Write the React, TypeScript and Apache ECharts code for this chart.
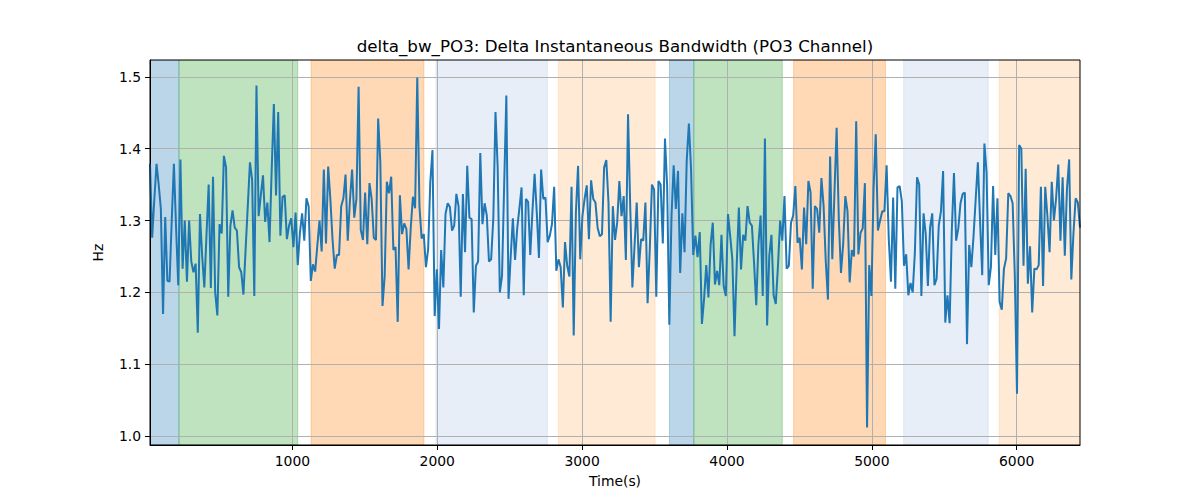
import React, { useEffect, useRef } from "react";
import * as echarts from "echarts";

const TITLE = "delta_bw_PO3: Delta Instantaneous Bandwidth (PO3 Channel)";
const X_NAME = "Time(s)";
const Y_NAME = "Hz";

// sampling grid of the time series (seconds)
const T_START = 17;
const T_STEP = 15;

const seg1 = [
  1.379, 1.276, 1.33, 1.379, 1.35, 1.316, 1.17, 1.305, 1.216, 1.215,
  1.3, 1.379, 1.29, 1.21, 1.385, 1.233, 1.3, 1.215, 1.3, 1.243,
  1.228, 1.24, 1.144, 1.309, 1.251, 1.207, 1.28, 1.35, 1.206, 1.361,
  1.2, 1.168, 1.295, 1.282, 1.39, 1.374, 1.194, 1.293, 1.314, 1.29,
  1.286, 1.235, 1.228, 1.197, 1.26, 1.32, 1.381, 1.357, 1.195, 1.488,
  1.306, 1.335, 1.363, 1.298,
];
const seg2 = [
  1.325, 1.27, 1.37, 1.462, 1.335, 1.451, 1.279, 1.333, 1.335, 1.274,
  1.293, 1.303, 1.263, 1.311, 1.238, 1.283, 1.31, 1.272, 1.331, 1.32,
  1.216, 1.239, 1.229, 1.265, 1.3, 1.257, 1.371, 1.268, 1.375, 1.33,
  1.274, 1.233, 1.252, 1.252, 1.32, 1.331, 1.364, 1.272, 1.327, 1.371,
  1.304, 1.33, 1.486, 1.287, 1.273, 1.339, 1.267, 1.352, 1.33, 1.276,
  1.273, 1.442, 1.381, 1.181,
];
const seg3 = [
  1.223, 1.354, 1.338, 1.361, 1.259, 1.263, 1.159, 1.335, 1.281, 1.296,
  1.288, 1.232, 1.29, 1.333, 1.317, 1.499, 1.32, 1.275, 1.281, 1.235,
  1.26, 1.354, 1.398, 1.167, 1.232, 1.149, 1.259, 1.207, 1.309, 1.324,
  1.319, 1.286, 1.293, 1.337, 1.32, 1.194, 1.337, 1.256, 1.376, 1.304,
  1.302, 1.172, 1.237, 1.243, 1.394, 1.295, 1.324, 1.307, 1.243, 1.246,
  1.303, 1.451, 1.374, 1.2, 1.223,
];
const seg4 = [
  1.35, 1.474, 1.191, 1.25, 1.303, 1.245, 1.289, 1.317, 1.346, 1.196,
  1.33, 1.326, 1.252, 1.313, 1.365, 1.311, 1.248, 1.371, 1.33, 1.332,
  1.27, 1.279, 1.295, 1.347, 1.23, 1.246, 1.235, 1.179, 1.27, 1.237,
  1.222, 1.347, 1.14, 1.311, 1.376, 1.246, 1.306, 1.33, 1.349, 1.274,
  1.356, 1.33, 1.325, 1.29, 1.278, 1.281, 1.374, 1.384, 1.325, 1.159,
  1.32, 1.273, 1.297, 1.355,
];
const seg5 = [
  1.306, 1.334, 1.245, 1.448, 1.32, 1.207, 1.265, 1.325, 1.235, 1.274,
  1.272, 1.325, 1.185, 1.26, 1.35, 1.343, 1.194, 1.355, 1.35, 1.268,
  1.414, 1.348, 1.155, 1.306, 1.377, 1.316, 1.369, 1.227, 1.31, 1.256,
  1.383, 1.435, 1.371, 1.252, 1.279, 1.249, 1.284, 1.156, 1.191, 1.238,
  1.193, 1.266, 1.297, 1.211, 1.23, 1.21, 1.28, 1.209, 1.195, 1.309,
  1.279, 1.246, 1.139, 1.237,
];
const seg6 = [
  1.318, 1.232, 1.28, 1.272, 1.32, 1.297, 1.293, 1.241, 1.182, 1.267,
  1.307, 1.195, 1.414, 1.154, 1.251, 1.28, 1.196, 1.184, 1.237, 1.3,
  1.272, 1.334, 1.233, 1.237, 1.297, 1.307, 1.348, 1.269, 1.276, 1.232,
  1.318, 1.267, 1.355, 1.339, 1.205, 1.32, 1.316, 1.283, 1.359, 1.32,
  1.243, 1.19, 1.389, 1.246, 1.339, 1.429, 1.302, 1.227, 1.267, 1.334,
  1.313, 1.214, 1.259, 1.25, 1.438,
];
const seg7 = [
  1.253, 1.283, 1.289, 1.352, 1.012, 1.238, 1.195, 1.344, 1.42, 1.286,
  1.3, 1.313, 1.313, 1.377, 1.274, 1.215, 1.332, 1.205, 1.346, 1.348,
  1.327, 1.237, 1.253, 1.196, 1.213, 1.2, 1.255, 1.36, 1.35, 1.195,
  1.31, 1.281, 1.209, 1.29, 1.31, 1.21, 1.219, 1.293, 1.313, 1.369,
  1.158, 1.196, 1.157, 1.286, 1.366, 1.272, 1.289, 1.324, 1.337, 1.339,
  1.128, 1.266, 1.235, 1.278,
];
const seg8 = [
  1.33, 1.381, 1.3, 1.224, 1.407, 1.367, 1.21, 1.235, 1.348, 1.252,
  1.331, 1.187, 1.176, 1.233, 1.247, 1.338, 1.334, 1.324, 1.223, 1.059,
  1.405, 1.4, 1.237, 1.372, 1.212, 1.264, 1.172, 1.233, 1.232, 1.238,
  1.347, 1.209, 1.347, 1.306, 1.256, 1.354, 1.3, 1.331, 1.378, 1.272,
  1.36, 1.251, 1.344, 1.385, 1.218, 1.283, 1.331, 1.325, 1.29,
];

const values = [...seg1, ...seg2, ...seg3, ...seg4, ...seg5, ...seg6, ...seg7, ...seg8];
const times = values.map((_, i) => T_START + i * T_STEP);

const xTicks = [1000, 2000, 3000, 4000, 5000, 6000];
const yTicks = [1.0, 1.1, 1.2, 1.3, 1.4, 1.5];

const bandStarts = [17, 217, 1129, 1991, 2836, 3603, 3771, 4460, 5220, 5879];
const bandEnds = [217, 1037, 1908, 2760, 3504, 3771, 4382, 5094, 5803, 6437];
const BLUE = "rgba(31,119,180,0.3)";
const GREEN = "rgba(44,160,44,0.3)";
const ORANGE = "rgba(255,127,14,0.3)";
const LBLUE = "rgba(174,199,232,0.3)";
const LORANGE = "rgba(255,187,120,0.3)";
const bandColors = [BLUE, GREEN, ORANGE, LBLUE, LORANGE, BLUE, GREEN, ORANGE, LBLUE, LORANGE];

export default function App() {
  const ref = useRef<HTMLDivElement>(null);

  useEffect(() => {
    if (!ref.current) return;
    const chart = echarts.init(ref.current, null, { renderer: "svg" });
    const vMin = Math.min(...values);
    const vMax = Math.max(...values);
    const pad = (vMax - vMin) * 0.05;
    const yMin = vMin - pad;
    const yMax = vMax + pad;
    const xMin = times[0];
    const xMax = times[times.length - 1];
    const font = "DejaVu Sans";
    const labelStyle = { color: "#000", fontSize: 13.9, fontFamily: font };

    chart.setOption({
      animation: false,
      grid: {
        left: 150,
        right: 120,
        top: 60,
        bottom: 55,
        show: true,
        borderColor: "#000",
        borderWidth: 1,
        backgroundColor: "transparent",
        z: 3,
      },
      graphic: [
        {
          type: "text",
          x: 615,
          y: 46,
          style: {
            text: TITLE,
            fontSize: 16.7,
            fontFamily: font,
            fill: "#000",
            align: "center",
            verticalAlign: "middle",
          },
        },
      ],
      xAxis: {
        type: "value",
        min: xMin,
        max: xMax,
        z: 1,
        name: X_NAME,
        nameLocation: "middle",
        nameGap: 29,
        nameTextStyle: labelStyle,
        axisLine: { show: true, onZero: false, lineStyle: { color: "#000", width: 1 } },
        axisTick: { show: true, length: 5, lineStyle: { color: "#000" }, customValues: xTicks },
        axisLabel: {
          ...labelStyle,
          margin: 9,
          customValues: xTicks,
          formatter: (v: number) => String(Math.round(v)),
        },
        splitLine: { show: true, lineStyle: { color: "#b0b0b0", width: 1 } },
      },
      yAxis: {
        type: "value",
        min: yMin,
        max: yMax,
        z: 1,
        name: Y_NAME,
        nameLocation: "middle",
        nameGap: 45,
        nameTextStyle: labelStyle,
        axisLine: { show: true, onZero: false, lineStyle: { color: "#000", width: 1 } },
        axisTick: { show: true, length: 5, lineStyle: { color: "#000" }, customValues: yTicks },
        axisLabel: {
          ...labelStyle,
          margin: 9,
          customValues: yTicks,
          formatter: (v: number) => v.toFixed(1),
        },
        splitLine: { show: true, lineStyle: { color: "#b0b0b0", width: 1 } },
      },
      series: [
        {
          type: "custom",
          z: 0,
          silent: true,
          clip: true,
          encode: { x: [0, 1] },
          data: bandStarts.map((s, i) => [s, bandEnds[i]]),
          renderItem: (params: any, api: any) => {
            const s = api.value(0);
            const e = api.value(1);
            const p1 = api.coord([s, yMax]);
            const p2 = api.coord([e, yMin]);
            const c = bandColors[params.dataIndex];
            return {
              type: "rect",
              shape: { x: p1[0], y: p1[1], width: p2[0] - p1[0], height: p2[1] - p1[1] },
              style: { fill: c, stroke: c, lineWidth: 1 },
            };
          },
        },
        {
          type: "line",
          z: 2,
          showSymbol: false,
          silent: true,
          data: times.map((t, i) => [t, values[i]]),
          lineStyle: { color: "#1f77b4", width: 2 },
          itemStyle: { color: "#1f77b4" },
        },
      ],
    });
    return () => chart.dispose();
  }, []);

  return (
    <div
      ref={ref}
      style={{ position: "fixed", left: 0, top: 0, width: 1200, height: 500, background: "#fff" }}
    />
  );
}
